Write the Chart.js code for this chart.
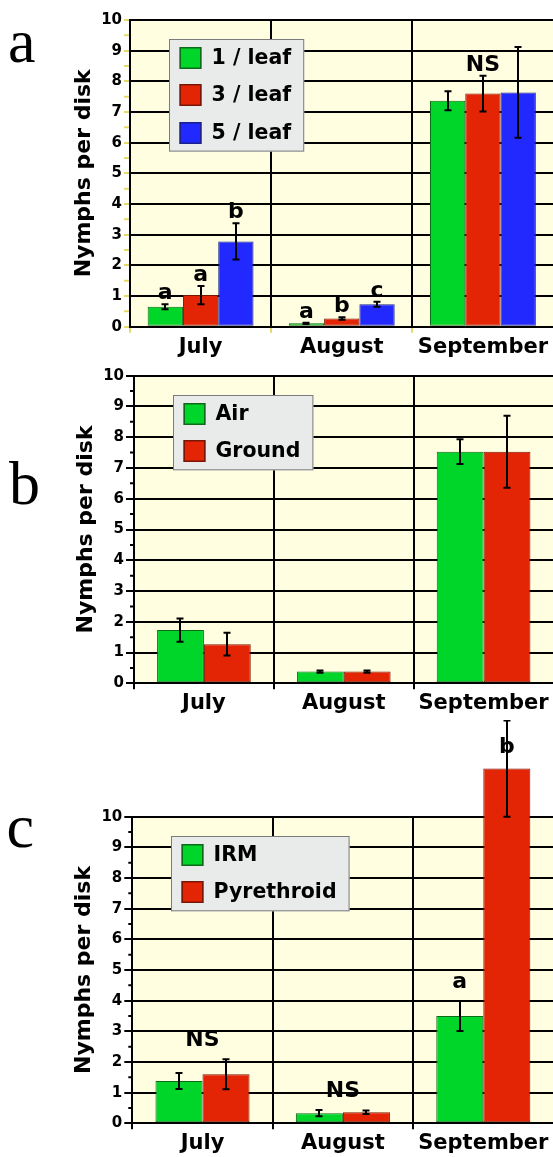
<!DOCTYPE html>
<html>
<head>
<meta charset="utf-8">
<title>Nymphs per disk</title>
<script src="https://cdn.jsdelivr.net/npm/chart.js@4/dist/chart.umd.min.js"></script>
<style>
  html, body { margin: 0; padding: 0; background: #fff; width: 553px; height: 1157px; overflow: hidden; }
  .panel { position: absolute; left: 0; }
  canvas { display: block; }
</style>
</head>
<body>
<div class="panel" style="top:0px"><canvas id="chartA" width="555" height="360"></canvas></div>
<div class="panel" style="top:360px"><canvas id="chartB" width="555" height="360"></canvas></div>
<div class="panel" style="top:720px"><canvas id="chartC" width="555" height="437"></canvas></div>
<script>
// ---- data ----
const months = ['July', 'August', 'September'];
const yTickValues = [0, 1, 2, 3, 4, 5, 6, 7, 8, 9, 10];

// (a) release density
const aLeaf1 = [0.65, 0.11, 7.37];
const aLeaf1Err = [0.08, 0.02, 0.31];
const aLeaf3 = [1.03, 0.27, 7.60];
const aLeaf3Err = [0.30, 0.04, 0.58];
const aLeaf5 = [2.78, 0.73, 7.64];
const aLeaf5Err = [0.59, 0.08, 1.48];
const aLetters1 = ['a', 'a', ''];
const aLetters3 = ['a', 'b', ''];
const aLetters5 = ['b', 'c', ''];
const aNotes = ['', '', 'NS'];

// (b) release method
const bAir = [1.73, 0.38, 7.53];
const bAirErr = [0.38, 0.04, 0.40];
const bGround = [1.27, 0.38, 7.53];
const bGroundErr = [0.37, 0.04, 1.17];

// (c) program
const cIRM = [1.38, 0.33, 3.50];
const cIRMErr = [0.26, 0.10, 0.49];
const cPyr = [1.60, 0.36, 11.57];
const cPyrErr = [0.49, 0.06, 1.57];
const cLettersIRM = ['', '', 'a'];
const cLettersPyr = ['', '', 'b'];
const cNotes = ['NS', 'NS', ''];

// ---- styling ----
const FONT = "'DejaVu Sans', 'Liberation Sans', sans-serif";
const GREEN = { bg: '#00d62a', border: '#0c6a18' };
const RED = { bg: '#e32405', border: '#7a1606' };
const BLUE = { bg: '#2129ff', border: '#1b208c' };
const PLOT_BG = '#fffee1';
const YELLOW_TICK = '#e6da6a';

function errTopPx(chart, di, i) {
  const ds = chart.data.datasets[di];
  return chart.scales.y.getPixelForValue(ds.data[i] + ds.errorBars[i]);
}

const plotBackground = {
  id: 'plotBackground',
  beforeDraw(chart) {
    const a = chart.chartArea, ctx = chart.ctx;
    ctx.save();
    ctx.fillStyle = PLOT_BG;
    ctx.fillRect(a.left, a.top, a.right - a.left, a.bottom - a.top);
    ctx.restore();
  }
};

const errorBars = {
  id: 'errorBars',
  afterDatasetsDraw(chart) {
    const ctx = chart.ctx, y = chart.scales.y;
    ctx.save();
    ctx.strokeStyle = '#000';
    ctx.lineWidth = 2;
    chart.data.datasets.forEach((ds, di) => {
      chart.getDatasetMeta(di).data.forEach((bar, i) => {
        const v = ds.data[i], e = ds.errorBars[i];
        const x = Math.round(bar.x);
        const top = y.getPixelForValue(v + e), bot = y.getPixelForValue(v - e);
        ctx.beginPath();
        ctx.moveTo(x, top); ctx.lineTo(x, bot);
        ctx.moveTo(x - 3.5, top); ctx.lineTo(x + 3.5, top);
        ctx.moveTo(x - 3.5, bot); ctx.lineTo(x + 3.5, bot);
        ctx.stroke();
      });
    });
    ctx.restore();
  }
};

// significance letters above bars and notes above whole month groups
function sigLabels(gap, notes) {
  return {
    id: 'sigLabels',
    afterDatasetsDraw(chart) {
      const ctx = chart.ctx;
      const size = 22;
      const minBase = size + 11;
      ctx.save();
      ctx.font = `bold ${size}px ${FONT}`;
      ctx.fillStyle = '#000';
      ctx.textAlign = 'center';
      ctx.textBaseline = 'alphabetic';
      chart.data.datasets.forEach((ds, di) => {
        if (!ds.letters) return;
        chart.getDatasetMeta(di).data.forEach((bar, i) => {
          const t = ds.letters[i];
          if (!t) return;
          ctx.fillText(t, bar.x, Math.max(errTopPx(chart, di, i) - gap, minBase));
        });
      });
      (notes || []).forEach((t, i) => {
        if (!t) return;
        const xc = chart.scales.x.getPixelForValue(i);
        const w = ctx.measureText(t).width;
        let top = Infinity;
        chart.data.datasets.forEach((ds, di) => {
          const bar = chart.getDatasetMeta(di).data[i];
          const half = bar.width / 2;
          if (bar.x + half - 2 > xc - w / 2 && bar.x - half + 2 < xc + w / 2) {
            top = Math.min(top, errTopPx(chart, di, i));
          }
        });
        ctx.fillText(t, xc, Math.max(top - gap, minBase));
      });
      ctx.restore();
    }
  };
}

function boxLegend(dx, dy) {
  return {
    id: 'boxLegend',
    afterDraw(chart) {
      const ctx = chart.ctx, a = chart.chartArea;
      const items = chart.data.datasets;
      ctx.save();
      ctx.font = `bold 20.5px ${FONT}`;
      const tw = Math.max(...items.map(d => ctx.measureText(d.label).width));
      const pitch = 37.3, sw = 22, padX = 10.5, padY = 8;
      const w = padX + sw + 10 + tw + 13;
      const h = padY * 2 + sw + pitch * (items.length - 1);
      const x0 = Math.round(a.left + dx), y0 = Math.round(a.top + dy);
      ctx.fillStyle = '#e9eaea';
      ctx.fillRect(x0, y0, w, h);
      ctx.strokeStyle = '#7c7c7c';
      ctx.lineWidth = 1;
      ctx.strokeRect(x0 + 0.5, y0 + 0.5, w - 1, h - 1);
      items.forEach((d, k) => {
        const sy = Math.round(y0 + padY + k * pitch);
        const sx = x0 + padX;
        ctx.fillStyle = d.backgroundColor;
        ctx.fillRect(sx, sy, sw, sw);
        ctx.strokeStyle = d.borderColor;
        ctx.lineWidth = 1.5;
        ctx.strokeRect(sx + 0.75, sy + 0.75, sw - 1.5, sw - 1.5);
        ctx.fillStyle = '#000';
        ctx.textAlign = 'left';
        ctx.textBaseline = 'middle';
        ctx.fillText(d.label, sx + sw + 10, sy + sw / 2 + 1);
      });
      ctx.restore();
    }
  };
}

function minorTicks(color, len) {
  return {
    id: 'minorTicks',
    afterDraw(chart) {
      const ctx = chart.ctx, y = chart.scales.y, a = chart.chartArea;
      ctx.save();
      ctx.strokeStyle = color;
      ctx.lineWidth = 2;
      ctx.beginPath();
      for (let k = 0; k < yTickValues.length - 1; k++) {
        const py = y.getPixelForValue((yTickValues[k] + yTickValues[k + 1]) / 2);
        ctx.moveTo(a.left - len, py);
        ctx.lineTo(a.left - 1, py);
      }
      ctx.stroke();
      ctx.restore();
    }
  };
}

function panelTag(text, x, baseline) {
  return {
    id: 'panelTag',
    afterDraw(chart) {
      const ctx = chart.ctx;
      ctx.save();
      ctx.font = "62px 'Liberation Serif', 'DejaVu Serif', serif";
      ctx.fillStyle = '#000';
      ctx.textAlign = 'left';
      ctx.textBaseline = 'alphabetic';
      ctx.fillText(text, x, baseline);
      ctx.restore();
    }
  };
}

function makeDataset(label, data, err, color, letters) {
  return {
    label, data,
    errorBars: err,
    letters,
    backgroundColor: color.bg,
    borderColor: color.border,
    borderWidth: 1,
    borderSkipped: false,
    clip: false
  };
}

function makePanel(id, p) {
  return new Chart(document.getElementById(id), {
    type: 'bar',
    data: { labels: months, datasets: p.datasets },
    options: {
      responsive: false,
      animation: false,
      devicePixelRatio: 1,
      events: [],
      datasets: { bar: { categoryPercentage: p.catPct, barPercentage: 1 } },
      layout: { padding: { top: p.top, left: 0, right: 1.5, bottom: 0 } },
      plugins: { legend: { display: false }, tooltip: { enabled: false } },
      scales: {
        x: {
          offset: true,
          grid: { offset: true, color: '#000', lineWidth: 2, tickLength: 6, tickColor: p.tickColor },
          border: { display: true, color: '#000', width: 2 },
          ticks: { font: { family: FONT, size: 21, weight: 'bold' }, color: '#000', padding: 2, maxRotation: 0, autoSkip: false },
          afterFit: s => { s.height = p.xHeight; }
        },
        y: {
          min: 0,
          max: 10,
          afterBuildTicks: s => { s.ticks = yTickValues.map(v => ({ value: v })); },
          grid: { color: '#000', lineWidth: 2, tickLength: p.yTickLen, tickColor: p.tickColor },
          border: { display: true, color: '#000', width: 2 },
          ticks: { font: { family: FONT, size: 15, weight: 'bold' }, color: '#000', padding: 2 },
          title: {
            display: true, text: 'Nymphs per disk', color: '#000',
            font: { family: FONT, size: 22, weight: 'bold' },
            padding: { top: p.titleX - 13.2, bottom: 0 }
          },
          afterFit: s => { s.width = p.yWidth; }
        }
      }
    },
    plugins: [
      plotBackground, errorBars, sigLabels(p.gap, p.notes),
      minorTicks(p.minorColor, p.minorLen), boxLegend(38.5, 19),
      panelTag(p.tag, p.tagX, p.tagBase)
    ]
  });
}

makePanel('chartA', {
  datasets: [
    makeDataset('1 / leaf', aLeaf1, aLeaf1Err, GREEN, aLetters1),
    makeDataset('3 / leaf', aLeaf3, aLeaf3Err, RED, aLetters3),
    makeDataset('5 / leaf', aLeaf5, aLeaf5Err, BLUE, aLetters5)
  ],
  notes: aNotes, gap: 5, catPct: 0.75,
  top: 20, xHeight: 33.3, yWidth: 130, titleX: 84,
  tickColor: YELLOW_TICK, yTickLen: 6, minorColor: YELLOW_TICK, minorLen: 6,
  tag: 'a', tagX: 8, tagBase: 62
});

makePanel('chartB', {
  datasets: [
    makeDataset('Air', bAir, bAirErr, GREEN, null),
    makeDataset('Ground', bGround, bGroundErr, RED, null)
  ],
  notes: [], gap: 5, catPct: 0.67,
  top: 15.7, xHeight: 36.7, yWidth: 134, titleX: 86,
  tickColor: '#000', yTickLen: 8, minorColor: '#000', minorLen: 4,
  tag: 'b', tagX: 9, tagBase: 144
});

makePanel('chartC', {
  datasets: [
    makeDataset('IRM', cIRM, cIRMErr, GREEN, cLettersIRM),
    makeDataset('Pyrethroid', cPyr, cPyrErr, RED, cLettersPyr)
  ],
  notes: cNotes, gap: 13, catPct: 0.67,
  top: 96.7, xHeight: 33.7, yWidth: 132.3, titleX: 84.5,
  tickColor: '#000', yTickLen: 8, minorColor: '#000', minorLen: 4,
  tag: 'c', tagX: 6.5, tagBase: 127
});
</script>
</body>
</html>
